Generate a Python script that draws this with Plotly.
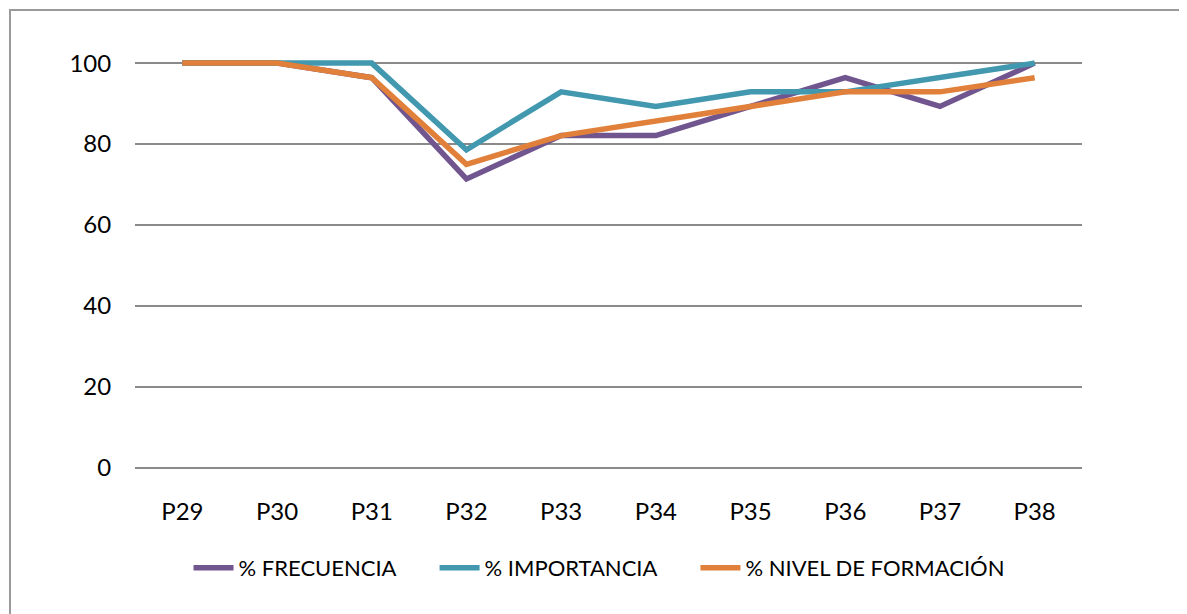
import plotly.graph_objects as go

categories = ["P29", "P30", "P31", "P32", "P33", "P34", "P35", "P36", "P37", "P38"]
frecuencia = [100, 100, 96.4, 71.4, 82.1, 82.1, 89.3, 96.4, 89.3, 100]
importancia = [100, 100, 100, 78.6, 92.9, 89.3, 92.9, 92.9, 96.4, 100]
nivel_formacion = [100, 100, 96.4, 75.0, 82.1, 85.7, 89.3, 92.9, 92.9, 96.4]
y_ticks = [0, 20, 40, 60, 80, 100]

font_family = "Lato, Roboto, sans-serif"
pad = "\u00a0" * 6  # extra room between legend entries

fig = go.Figure()
fig.add_trace(go.Scatter(x=categories, y=frecuencia, name="% FRECUENCIA" + pad, mode="lines",
                         line=dict(color="#71558F", width=5.5)))
fig.add_trace(go.Scatter(x=categories, y=importancia, name="% IMPORTANCIA" + pad, mode="lines",
                         line=dict(color="#4198AF", width=5.5)))
fig.add_trace(go.Scatter(x=categories, y=nivel_formacion, name="% NIVEL DE FORMACIÓN", mode="lines",
                         line=dict(color="#E0803A", width=5.5)))

fig.update_xaxes(showgrid=False, showline=False, zeroline=False,
                 ticks="outside", ticklen=22, tickcolor="rgba(0,0,0,0)",
                 tickfont=dict(family=font_family, size=24, color="black"),
                 range=[-0.5, 9.5])
fig.update_yaxes(range=[0, 102], tickvals=y_ticks, showgrid=True, gridcolor="#8A8A8A", gridwidth=2,
                 zeroline=True, zerolinecolor="#8A8A8A", zerolinewidth=2, showline=False,
                 ticks="outside", ticklen=18, tickcolor="rgba(0,0,0,0)",
                 tickfont=dict(family=font_family, size=24, color="black"))

# outer chart border
fig.add_shape(type="rect", xref="paper", yref="paper", x0=-0.132, x1=1.2, y0=-0.5, y1=1.109,
              line=dict(color="#9A9A9A", width=2), fillcolor="rgba(0,0,0,0)", layer="below")

fig.update_layout(
    width=1187, height=614,
    margin=dict(l=127, r=113, t=47, b=154),
    plot_bgcolor="white", paper_bgcolor="white",
    showlegend=True,
    legend=dict(orientation="h", x=0.49, xanchor="center", y=-0.242, yanchor="middle",
                font=dict(family=font_family, size=22, color="black"),
                itemwidth=40, tracegroupgap=0),
)

fig.write_html("out.html")
